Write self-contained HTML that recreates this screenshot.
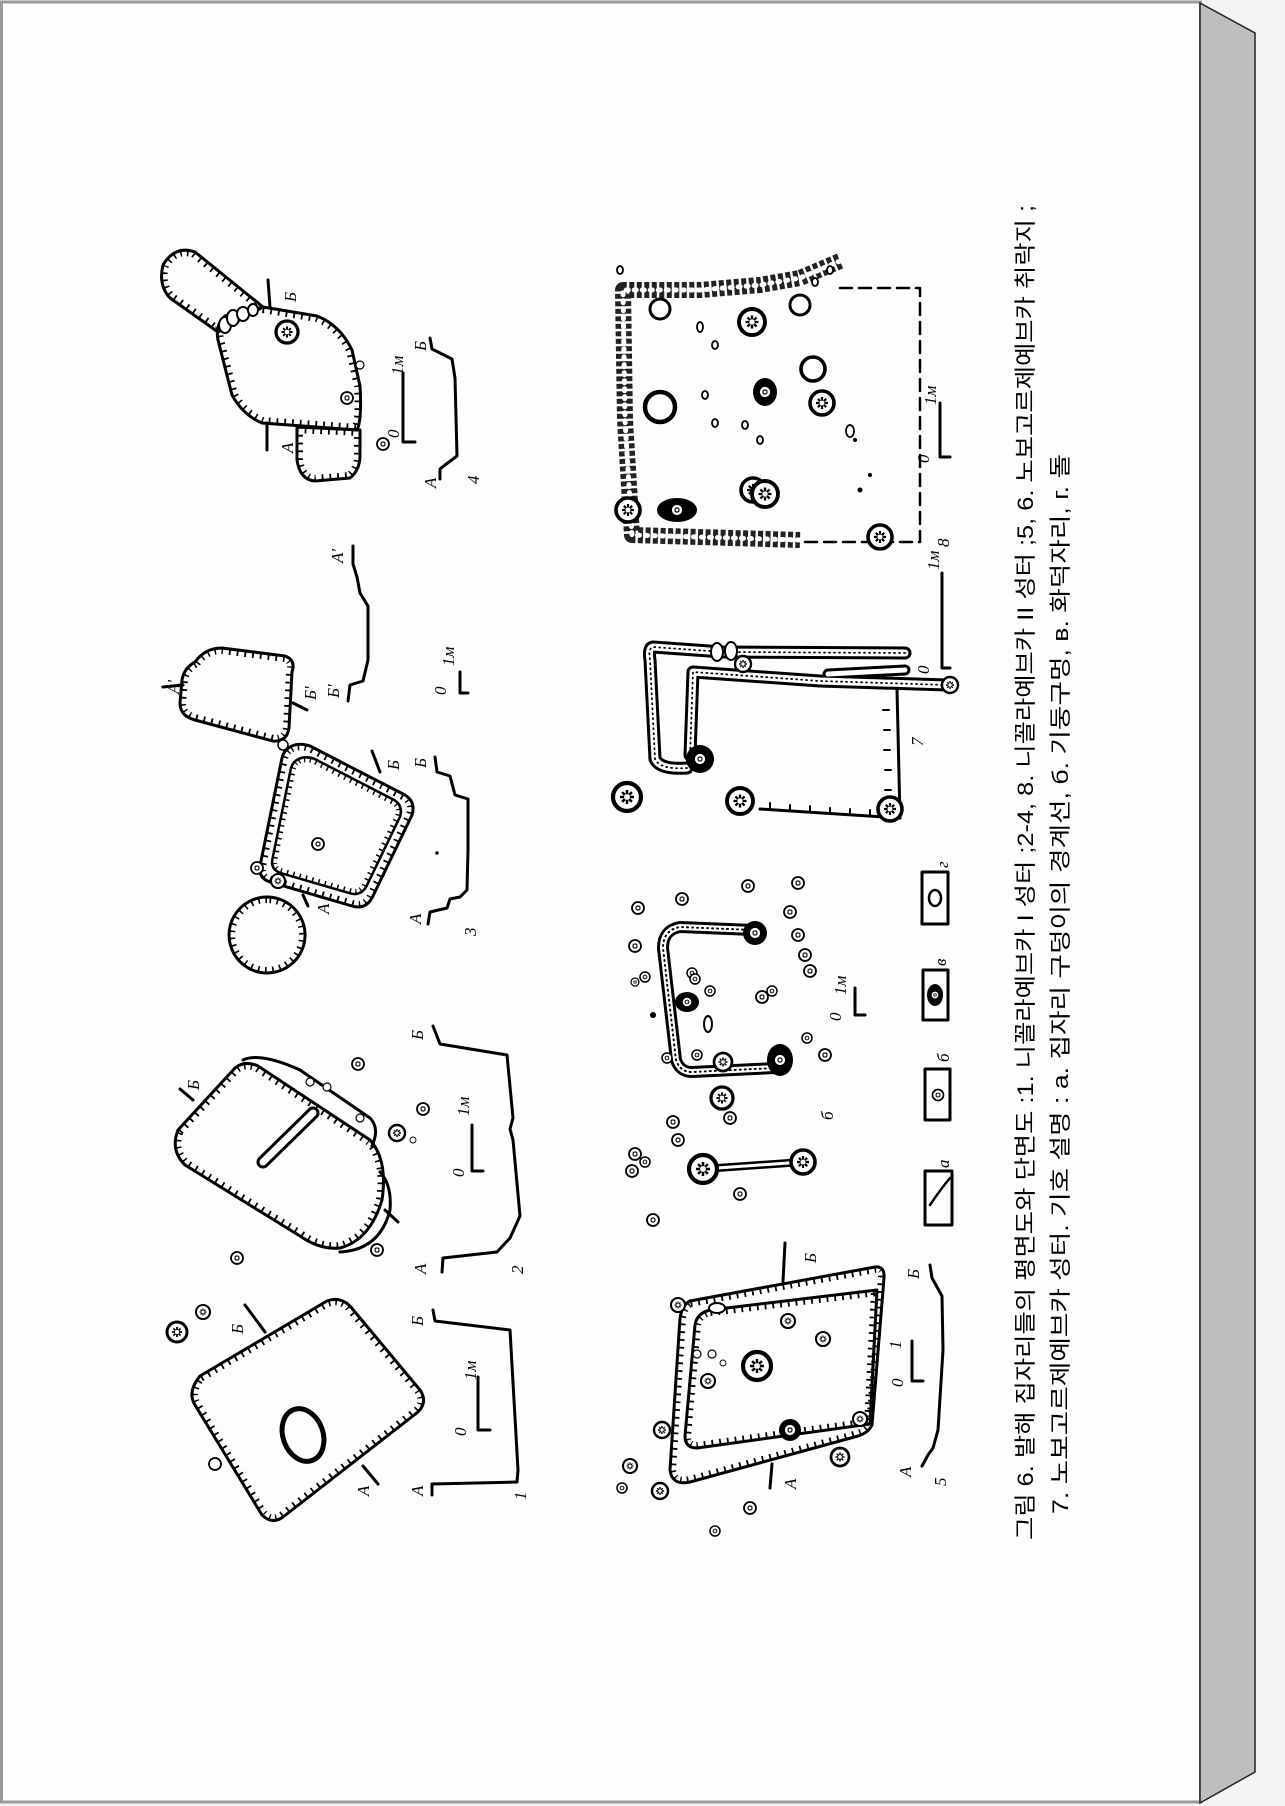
<!DOCTYPE html>
<html><head><meta charset="utf-8"><style>
html,body{margin:0;padding:0;background:#f3f3f3;width:1285px;height:1806px;overflow:hidden}
svg{display:block}
text{font-family:"Liberation Sans","Noto Sans CJK KR",sans-serif}
.l{font-family:"Liberation Serif",serif;font-style:italic;font-size:17px}
</style></head><body>
<svg width="1285" height="1806" viewBox="0 0 1285 1806" xmlns="http://www.w3.org/2000/svg">
<defs>
<g id="st"><circle r="10" fill="#fff" stroke="#000" stroke-width="3"/><path d="M0,-5V-2M0,5V2M-5,0H-2M5,0H2M-3.5,-3.5L-1.5,-1.5M3.5,3.5L1.5,1.5M-3.5,3.5L-1.5,1.5M3.5,-3.5L1.5,-1.5" stroke="#000" stroke-width="1.8"/></g>
<g id="ci"><circle r="10" fill="#fff" stroke="#000" stroke-width="3"/></g>
<path id="p1" d="M200,1376 L327,1301 Q340,1296 350,1306 L420,1390 Q428,1402 418,1412 L283,1517 Q272,1525 262,1515 L195,1405 Q187,1392 200,1376Z"/>
<path id="p2" d="M178,1130 L235,1068 Q245,1060 258,1066 L370,1140 Q388,1160 382,1200 Q370,1240 340,1248 Q320,1250 300,1236 L185,1165 Q170,1150 178,1130Z"/>
<path id="p3" d="M290,747 Q298,742 310,746 L405,795 Q416,802 412,815 L372,898 Q365,910 352,906 L270,882 Q258,878 260,866 L282,758 Q284,750 290,747Z"/>
<path id="p3b" d="M195,662 Q205,648 222,648 L285,656 Q296,660 292,672 L289,728 Q287,742 273,741 L195,720 Q180,716 180,703 L182,680 Q184,668 195,662Z"/>
<path id="p3c" d="M267,897 a38,38 0 1,0 0.1,0Z"/>
<path id="p4" d="M263,307 L317,316 Q340,325 352,350 L360,386 Q362,420 357,430 L262,423 Q243,415 232,395 L218,340 Q215,325 225,316Z"/>
<path id="p4t" d="M263,307 L195,252 Q175,245 163,265 Q158,285 170,298 L218,332Z"/>
<path id="p4b" d="M297,427 L297,460 Q300,480 315,481 L350,478 Q360,470 360,455 L360,430Z"/>
<path id="p5" d="M690,1301 L875,1267 Q885,1266 884,1278 L872,1425 Q868,1433 858,1436 L690,1482 Q672,1486 670,1470 L680,1318 Q682,1305 690,1301Z"/>
<path id="p5i" d="M710,1310 L877,1290 L870,1424 L697,1448 Q685,1448 685,1436 L695,1325 Q697,1313 710,1310Z"/>
<clipPath id="c1"><use href="#p1"/></clipPath>
<clipPath id="c2"><use href="#p2"/></clipPath>
<clipPath id="c3"><use href="#p3"/></clipPath>
<clipPath id="c3b"><use href="#p3b"/></clipPath>
<clipPath id="c3c"><use href="#p3c"/></clipPath>
<clipPath id="c4"><use href="#p4"/></clipPath>
<clipPath id="c4t"><use href="#p4t"/></clipPath>
<clipPath id="c4b"><use href="#p4b"/></clipPath>
<clipPath id="c5"><use href="#p5"/></clipPath>
<clipPath id="c5i"><use href="#p5i"/></clipPath>
</defs>
<!-- page -->
<rect x="0" y="0" width="1285" height="1806" fill="#f3f3f3"/>
<rect x="1.5" y="2" width="1199" height="1800" fill="#fdfdfe" stroke="#9a9a9a" stroke-width="3"/>
<polygon points="1200,3 1255,33 1255,1772 1200,1803" fill="#bebebe" stroke="#222" stroke-width="1.5"/>

<g fill="none" stroke="#000" stroke-width="3" stroke-linejoin="round" stroke-linecap="round">
<!-- tick outlines -->
<g>
<use href="#p1"/><use href="#p1" clip-path="url(#c1)" stroke-width="12" stroke-dasharray="1.8 6" stroke-linecap="butt"/>
<use href="#p2"/><use href="#p2" clip-path="url(#c2)" stroke-width="12" stroke-dasharray="1.8 6" stroke-linecap="butt"/>
<use href="#p3"/><use href="#p3" clip-path="url(#c3)" stroke-width="12" stroke-dasharray="1.8 6" stroke-linecap="butt"/>
<g transform="translate(337,826) scale(.84) translate(-337,-826)"><use href="#p3"/><use href="#p3" clip-path="url(#c3)" stroke-width="12" stroke-dasharray="1.8 6" stroke-linecap="butt"/></g>
<use href="#p3b"/><use href="#p3b" clip-path="url(#c3b)" stroke-width="12" stroke-dasharray="1.8 6" stroke-linecap="butt"/>
<use href="#p3c"/><use href="#p3c" clip-path="url(#c3c)" stroke-width="12" stroke-dasharray="1.8 6" stroke-linecap="butt"/>
<use href="#p4"/><use href="#p4" clip-path="url(#c4)" stroke-width="12" stroke-dasharray="1.8 6" stroke-linecap="butt"/>
<use href="#p4t"/><use href="#p4t" clip-path="url(#c4t)" stroke-width="12" stroke-dasharray="1.8 6" stroke-linecap="butt"/>
<use href="#p4b"/><use href="#p4b" clip-path="url(#c4b)" stroke-width="12" stroke-dasharray="1.8 6" stroke-linecap="butt"/>
<use href="#p5"/><use href="#p5" clip-path="url(#c5)" stroke-width="12" stroke-dasharray="1.8 6" stroke-linecap="butt"/>
<use href="#p5i"/><use href="#p5i" clip-path="url(#c5i)" stroke-width="12" stroke-dasharray="1.8 6" stroke-linecap="butt"/>
</g>
<!-- fig1 -->
<ellipse cx="303" cy="1435" rx="20" ry="27" stroke-width="5" transform="rotate(-20 303 1435)"/>
<path d="M245,1305L265,1332M363,1466L378,1484"/>
<path d="M433,1310L435,1321L510,1330L518,1470L517,1482L432,1484L432,1495"/>
<path d="M478,1377V1430H490"/>
<!-- fig2 -->
<path d="M243,1060Q260,1052 300,1070L370,1118Q380,1128 372,1146"/>
<path d="M340,1252Q380,1250 390,1210Q392,1185 380,1172"/>
<path d="M263,1162L313,1113" stroke-width="13"/><path d="M263,1162L313,1113" stroke="#fff" stroke-width="7"/>
<path d="M180,1089L193,1100M385,1210L398,1222"/>
<path d="M433,1026L440,1044L507,1055L513,1118L510,1129L513,1140L520,1216L510,1238L497,1252L443,1258L442,1272"/>
<path d="M472,1125V1171H483"/>
<!-- fig3 -->
<path d="M303,895L308,906M372,751L380,772"/>
<path d="M435,757L437,772L450,776L455,795L468,799L468,850L467,890L460,897L450,899L447,908L430,912L428,924"/>
<path d="M163,687L183,685M293,703L307,710"/>
<path d="M348,701L350,685L363,681L368,660L368,606L360,593L357,577L353,564L353,546"/>
<path d="M460,672V693H468"/>
<!-- fig4 -->
<path d="M268,280L270,307M267,423L267,450"/>
<path d="M430,338L432,349L452,359L455,378L457,456L445,465L440,469L440,479"/>
<path d="M403,373V442H415"/>
<!-- fig5 -->
<path d="M785,1243L783,1281M772,1464L770,1488"/>
<path d="M930,1265L932,1278L942,1296L943,1350L938,1430L933,1448L928,1455L922,1466"/>
<path d="M912,1341V1381H923"/>
<!-- fig6 channel -->
<path d="M753,930L680,927Q663,930 663,948L676,1060Q680,1072 692,1072L775,1068" stroke-width="12"/>
<path d="M753,930L680,927Q663,930 663,948L676,1060Q680,1072 692,1072L775,1068" stroke="#fff" stroke-width="6"/>
<path d="M753,930L680,927Q663,930 663,948L676,1060Q680,1072 692,1072L775,1068" stroke-width="2" stroke-dasharray="1 4"/>
<path d="M703,1169L803,1162" stroke-width="8"/><path d="M703,1169L803,1162" stroke="#fff" stroke-width="3"/>
<path d="M855,988V1015H865"/>
<!-- legend -->
<rect x="925" y="1171" width="27" height="54"/><path d="M930,1205Q940,1190 950,1178" stroke-width="2.5"/>
<rect x="925" y="1069" width="25" height="51"/>
<rect x="923" y="970" width="25" height="50"/>
<rect x="922" y="872" width="26" height="52"/>
<!-- fig7 -->
<path d="M760,809L900,818L897,689"/>
<path d="M770,809V803M790,811V805M810,812V806M830,814V808M850,815V809M870,816V810M890,811H884M891,790H885M891,770H885M890,750H884M890,730H884M889,710H883" stroke-width="2"/>
<g id="ch1"><path d="M905,653L723,652L653,647Q648,648 650,660L655,759Q660,770 687,768"/></g>
<path d="M905,653L723,652L653,647Q648,648 650,660L655,759Q660,770 687,768" stroke-width="13"/>
<path d="M905,653L723,652L653,647Q648,648 650,660L655,759Q660,770 687,768" stroke="#fff" stroke-width="7"/>
<path d="M905,653L723,652L653,647Q648,648 650,660L655,759Q660,770 687,768" stroke-width="1.8" stroke-dasharray="1 4"/>
<path d="M947,685L820,681L693,672L690,755" stroke-width="13"/>
<path d="M828,674L905,670" stroke-width="11"/>
<path d="M947,685L820,681L693,672L690,755" stroke="#fff" stroke-width="7"/>
<path d="M828,674L905,670" stroke="#fff" stroke-width="5"/>
<path d="M947,685L820,681L693,672L690,755" stroke-width="1.8" stroke-dasharray="1 4"/>
<path d="M942,573V668H950"/>
<!-- fig8 -->
<path d="M840,288H920V542H803" stroke-width="2.5" stroke-dasharray="12 7"/>
<path d="M840,261L800,278L760,285L700,290L623,290L625,420L632,535L800,540" stroke="#222" stroke-width="16" stroke-dasharray="5 2.5" stroke-linecap="butt"/>
<path d="M840,261L800,278L760,285L700,290L623,290L625,420L632,535L800,540" stroke="#fff" stroke-width="5" stroke-dasharray="2 6"/>
<path d="M940,403V457H950"/>
</g>

<!-- filled blobs / stars -->
<g>
<use href="#st" transform="translate(177,1332) scale(1)"/>
<use href="#st" transform="translate(203,1312) scale(.7)"/>
<use href="#ci" transform="translate(215,1464) scale(.6)"/>
<use href="#ci" transform="translate(310,1082) scale(.4)"/>
<use href="#ci" transform="translate(327,1087) scale(.4)"/>
<use href="#ci" transform="translate(360,1118) scale(.4)"/>
<use href="#ci" transform="translate(413,1140) scale(.3)"/>
<use href="#st" transform="translate(397,1133) scale(.8)"/>
<use href="#st" transform="translate(237,1258) scale(.6)"/>
<use href="#st" transform="translate(377,1250) scale(.6)"/>
<use href="#st" transform="translate(358,1064) scale(.6)"/>
<use href="#st" transform="translate(423,1109) scale(.6)"/>
<use href="#st" transform="translate(318,844) scale(.6)"/>
<use href="#st" transform="translate(257,868) scale(.6)"/>
<use href="#st" transform="translate(278,881) scale(.7)"/>
<use href="#ci" transform="translate(283,745) scale(.5)"/>
<circle cx="437" cy="853" r="1.8"/>
<use href="#ci" transform="translate(360,365) scale(.4)"/>
<use href="#st" transform="translate(347,398) scale(.6)"/>
<use href="#st" transform="translate(383,444) scale(.6)"/>
<use href="#st" transform="translate(287,332) scale(1.1)"/>
<g fill="#fff" stroke="#000" stroke-width="2"><ellipse cx="225" cy="325" rx="6" ry="8"/><ellipse cx="233" cy="318" rx="6" ry="8"/><ellipse cx="243" cy="314" rx="6" ry="7"/><ellipse cx="253" cy="310" rx="5" ry="6"/></g>
<!-- fig5 -->
<use href="#st" transform="translate(757,1366) scale(1.4)"/>
<circle cx="790" cy="1430" r="11"/><use href="#st" transform="translate(790,1430) scale(.6)"/>
<use href="#st" transform="translate(678,1305) scale(.7)"/>
<use href="#st" transform="translate(788,1321) scale(.7)"/>
<use href="#st" transform="translate(823,1339) scale(.7)"/>
<use href="#st" transform="translate(708,1381) scale(.7)"/>
<use href="#ci" transform="translate(712,1354) scale(.4)"/>
<use href="#ci" transform="translate(723,1363) scale(.3)"/>
<use href="#ci" transform="translate(697,1354) scale(.4)"/>
<use href="#st" transform="translate(860,1419) scale(.7)"/>
<use href="#st" transform="translate(662,1430) scale(.8)"/>
<use href="#st" transform="translate(630,1466) scale(.7)"/>
<use href="#st" transform="translate(660,1491) scale(.8)"/>
<use href="#st" transform="translate(840,1457) scale(.9)"/>
<use href="#st" transform="translate(622,1488) scale(.5)"/>
<use href="#st" transform="translate(750,1508) scale(.6)"/>
<use href="#st" transform="translate(715,1531) scale(.5)"/>
<ellipse cx="717" cy="1308" rx="8" ry="5" fill="#fff" stroke="#000" stroke-width="2"/>
<!-- fig6 -->
<circle cx="755" cy="933" r="12"/><use href="#st" transform="translate(755,933) scale(.6)"/>
<ellipse cx="780" cy="1060" rx="13" ry="16"/><use href="#st" transform="translate(780,1060) scale(.6)"/>
<use href="#st" transform="translate(703,1169) scale(1.4)"/>
<use href="#st" transform="translate(803,1162) scale(1.2)"/>
<use href="#st" transform="translate(638,908) scale(.6)"/>
<use href="#st" transform="translate(682,899) scale(.6)"/>
<use href="#st" transform="translate(748,886) scale(.6)"/>
<use href="#st" transform="translate(798,883) scale(.6)"/>
<use href="#st" transform="translate(790,912) scale(.6)"/>
<use href="#st" transform="translate(798,935) scale(.6)"/>
<use href="#st" transform="translate(805,955) scale(.6)"/>
<use href="#st" transform="translate(810,971) scale(.6)"/>
<use href="#st" transform="translate(635,946) scale(.6)"/>
<use href="#st" transform="translate(635,982) scale(.4)"/>
<use href="#st" transform="translate(645,977) scale(.5)"/>
<circle cx="653" cy="1015" r="3"/>
<use href="#st" transform="translate(692,973) scale(.5)"/>
<use href="#st" transform="translate(695,979) scale(.5)"/>
<ellipse cx="687" cy="1002" rx="12" ry="10"/><use href="#st" transform="translate(687,1002) scale(.5)"/>
<use href="#st" transform="translate(710,991) scale(.5)"/>
<ellipse cx="708" cy="1024" rx="4" ry="8" fill="#fff" stroke="#000" stroke-width="2"/>
<use href="#st" transform="translate(762,997) scale(.6)"/>
<use href="#st" transform="translate(772,991) scale(.5)"/>
<use href="#st" transform="translate(697,1055) scale(.5)"/>
<use href="#st" transform="translate(723,1062) scale(.9)"/>
<use href="#st" transform="translate(667,1058) scale(.5)"/>
<use href="#st" transform="translate(807,1038) scale(.5)"/>
<use href="#st" transform="translate(825,1055) scale(.6)"/>
<use href="#st" transform="translate(722,1098) scale(1.1)"/>
<use href="#st" transform="translate(730,1118) scale(.6)"/>
<use href="#st" transform="translate(673,1122) scale(.6)"/>
<use href="#st" transform="translate(678,1140) scale(.6)"/>
<use href="#st" transform="translate(635,1154) scale(.6)"/>
<use href="#st" transform="translate(645,1162) scale(.5)"/>
<use href="#st" transform="translate(632,1171) scale(.6)"/>
<use href="#st" transform="translate(740,1194) scale(.6)"/>
<use href="#st" transform="translate(653,1220) scale(.6)"/>
<!-- legend contents -->
<use href="#st" transform="translate(938,1095) scale(.55)"/>
<ellipse cx="935" cy="995" rx="8" ry="11"/><use href="#st" transform="translate(935,995) scale(.4)"/>
<ellipse cx="935" cy="898" rx="6" ry="8" fill="#fff" stroke="#000" stroke-width="2.5"/>
<!-- fig7 -->
<use href="#st" transform="translate(740,801) scale(1.3)"/>
<use href="#st" transform="translate(890,809) scale(1.2)"/>
<use href="#st" transform="translate(627,797) scale(1.4)"/>
<use href="#st" transform="translate(628,510) scale(1.2)"/>
<use href="#st" transform="translate(753,490) scale(1.2)"/>
<use href="#st" transform="translate(880,537) scale(1.2)"/>
<use href="#st" transform="translate(743,664) scale(.8)"/>
<use href="#st" transform="translate(950,685) scale(.8)"/>
<circle cx="700" cy="759" r="14"/><use href="#st" transform="translate(700,759) scale(.6)"/>
<ellipse cx="717" cy="652" rx="6" ry="9" fill="#fff" stroke="#000" stroke-width="2"/>
<ellipse cx="731" cy="651" rx="6" ry="9" fill="#fff" stroke="#000" stroke-width="2"/>
<!-- fig8 -->
<use href="#ci" transform="translate(660,309) scale(1)"/>
<use href="#st" transform="translate(752,322) scale(1.3)"/>
<use href="#ci" transform="translate(800,305) scale(1)"/>
<use href="#ci" transform="translate(813,369) scale(1.2)"/>
<use href="#ci" transform="translate(660,407) scale(1.5)"/>
<ellipse cx="765" cy="392" rx="12" ry="14"/><use href="#st" transform="translate(765,392) scale(.6)"/>
<use href="#st" transform="translate(822,403) scale(1.2)"/>
<ellipse cx="677" cy="510" rx="20" ry="12"/><use href="#st" transform="translate(677,510) scale(.6)"/>
<use href="#st" transform="translate(765,494) scale(1.3)"/>
<g fill="#fff" stroke="#000" stroke-width="1.8">
<ellipse cx="700" cy="327" rx="3" ry="5"/><ellipse cx="715" cy="345" rx="3" ry="4"/><ellipse cx="705" cy="395" rx="3" ry="4"/><ellipse cx="745" cy="425" rx="3" ry="4"/><ellipse cx="850" cy="431" rx="4" ry="6"/><ellipse cx="760" cy="440" rx="3" ry="4"/><ellipse cx="715" cy="423" rx="3" ry="4"/><ellipse cx="620" cy="270" rx="3" ry="4"/><ellipse cx="830" cy="270" rx="3" ry="4"/><ellipse cx="815" cy="282" rx="3" ry="4"/>
</g>
<circle cx="855" cy="440" r="2"/><circle cx="860" cy="490" r="2.5"/><circle cx="870" cy="475" r="2"/>
</g>

<!-- labels -->
<g class="l" fill="#000">
<text class="l" transform="translate(243,1334) rotate(-90)">Б</text>
<text class="l" transform="translate(369,1496) rotate(-90)">A</text>
<text class="l" transform="translate(423,1326) rotate(-90)">Б</text>
<text class="l" transform="translate(423,1496) rotate(-90)">A</text>
<text class="l" transform="translate(526,1500) rotate(-90)">1</text>
<text class="l" transform="translate(466,1436) rotate(-90)">0</text>
<text class="l" transform="translate(476,1380) rotate(-90)">1м</text>
<text class="l" transform="translate(199,1090) rotate(-90)">Б</text>
<text class="l" transform="translate(423,1040) rotate(-90)">Б</text>
<text class="l" transform="translate(426,1274) rotate(-90)">A</text>
<text class="l" transform="translate(523,1274) rotate(-90)">2</text>
<text class="l" transform="translate(464,1177) rotate(-90)">0</text>
<text class="l" transform="translate(469,1116) rotate(-90)">1м</text>
<text class="l" transform="translate(329,914) rotate(-90)">A</text>
<text class="l" transform="translate(399,770) rotate(-90)">Б</text>
<text class="l" transform="translate(426,768) rotate(-90)">Б</text>
<text class="l" transform="translate(421,924) rotate(-90)">A</text>
<text class="l" transform="translate(476,936) rotate(-90)">3</text>
<text class="l" transform="translate(179,694) rotate(-90)">A'</text>
<text class="l" transform="translate(316,700) rotate(-90)">Б'</text>
<text class="l" transform="translate(339,698) rotate(-90)">Б'</text>
<text class="l" transform="translate(343,563) rotate(-90)">A'</text>
<text class="l" transform="translate(446,695) rotate(-90)">0</text>
<text class="l" transform="translate(454,666) rotate(-90)">1м</text>
<text class="l" transform="translate(296,302) rotate(-90)">Б</text>
<text class="l" transform="translate(293,453) rotate(-90)">A</text>
<text class="l" transform="translate(426,351) rotate(-90)">Б</text>
<text class="l" transform="translate(436,488) rotate(-90)">A</text>
<text class="l" transform="translate(479,484) rotate(-90)">4</text>
<text class="l" transform="translate(399,438) rotate(-90)">0</text>
<text class="l" transform="translate(403,375) rotate(-90)">1м</text>
<text class="l" transform="translate(816,1263) rotate(-90)">Б</text>
<text class="l" transform="translate(796,1489) rotate(-90)">A</text>
<text class="l" transform="translate(919,1279) rotate(-90)">Б</text>
<text class="l" transform="translate(911,1477) rotate(-90)">A</text>
<text class="l" transform="translate(946,1486) rotate(-90)">5</text>
<text class="l" transform="translate(903,1387) rotate(-90)">0</text>
<text class="l" transform="translate(901,1349) rotate(-90)">1</text>
<text class="l" transform="translate(833,1120) rotate(-90)">б</text>
<text class="l" transform="translate(841,1021) rotate(-90)">0</text>
<text class="l" transform="translate(846,995) rotate(-90)">1м</text>
<text class="l" transform="translate(949,1168) rotate(-90)">a</text>
<text class="l" transform="translate(949,1062) rotate(-90)">б</text>
<text class="l" transform="translate(946,966) rotate(-90)">в</text>
<text class="l" transform="translate(948,868) rotate(-90)">г</text>
<text class="l" transform="translate(923,746) rotate(-90)">7</text>
<text class="l" transform="translate(929,674) rotate(-90)">0</text>
<text class="l" transform="translate(939,570) rotate(-90)">1м</text>
<text class="l" transform="translate(949,547) rotate(-90)">8</text>
<text class="l" transform="translate(929,463) rotate(-90)">0</text>
<text class="l" transform="translate(936,405) rotate(-90)">1м</text>
</g>

<!-- caption -->
<text transform="translate(1033,1540) rotate(-90)" font-size="22" textLength="1335" lengthAdjust="spacingAndGlyphs">그림 6. 발해 집자리들의 평면도와 단면도 :1. 니꼴라예브카 I 성터 ;2-4, 8. 니꼴라예브카 II 성터 ;5, 6. 노보고르제예브카 취락지 ;</text>
<text transform="translate(1068,1514) rotate(-90)" font-size="22" textLength="1060" lengthAdjust="spacingAndGlyphs">7. 노보고르제예브카 성터.  기호 설명 : a. 집자리 구덩이의 경계선, б. 기둥구멍, в. 화덕자리, г. 돌</text>
</svg>
</body></html>
